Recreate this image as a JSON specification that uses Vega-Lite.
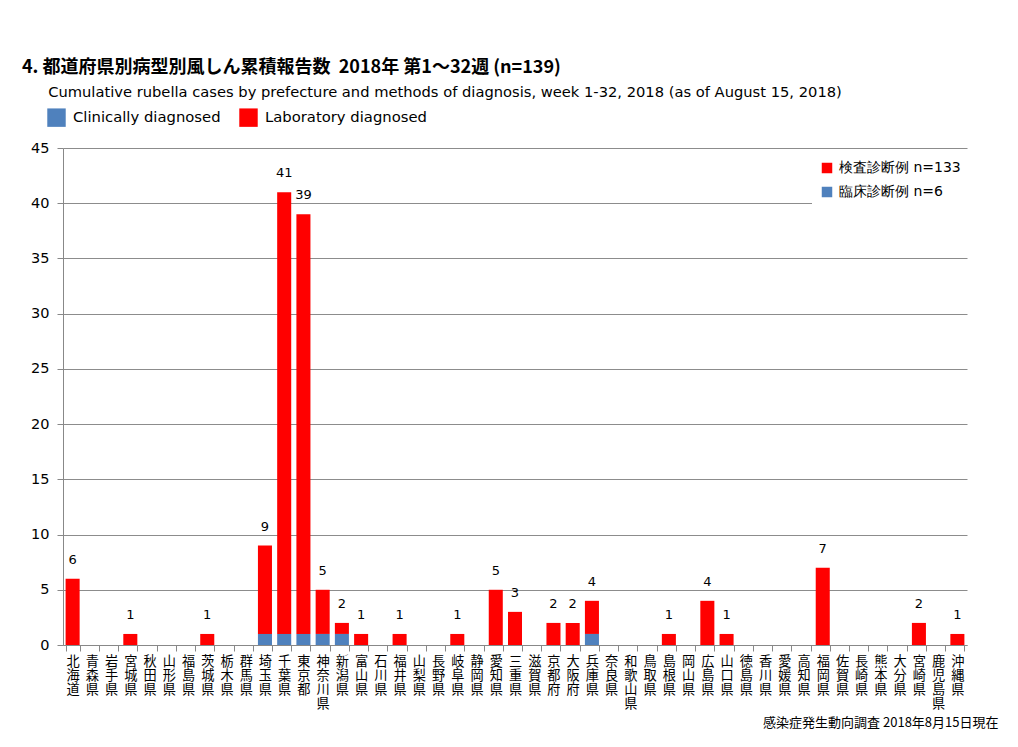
{
  "$schema": "https://vega.github.io/schema/vega-lite/v6.json",
  "width": 904,
  "height": 497,
  "autosize": "none",
  "padding": {"left": 63, "top": 148, "right": 51, "bottom": 102},
  "background": "white",
  "config": {
    "font": "DejaVu Sans",
    "view": {"stroke": null},
    "axis": {"labelColor": "#000", "titleColor": "#000"}
  },
  "title": {
    "text": "4. 都道府県別病型別風しん累積報告数\u00a0\u00a02018年 第1～32週 (n=139)",
    "subtitle": "\u2800\u2800\u00a0Cumulative rubella cases by prefecture and methods of diagnosis, week 1-32, 2018 (as of August 15, 2018)",
    "anchor": "start",
    "frame": "group",
    "dx": -41,
    "offset": 8,
    "font": "Noto Sans CJK JP",
    "fontSize": 18,
    "fontWeight": "bold",
    "color": "#000",
    "subtitleFont": "DejaVu Sans",
    "subtitleFontSize": 14.7,
    "subtitleColor": "#000",
    "subtitlePadding": 8
  },
  "datasets": {
    "cases": [
      {"pref": "北海道", "method": "検査診断例 n=133", "en": "Laboratory diagnosed", "count": 6},
      {"pref": "青森県", "method": "検査診断例 n=133", "en": "Laboratory diagnosed", "count": 0},
      {"pref": "岩手県", "method": "検査診断例 n=133", "en": "Laboratory diagnosed", "count": 0},
      {"pref": "宮城県", "method": "検査診断例 n=133", "en": "Laboratory diagnosed", "count": 1},
      {"pref": "秋田県", "method": "検査診断例 n=133", "en": "Laboratory diagnosed", "count": 0},
      {"pref": "山形県", "method": "検査診断例 n=133", "en": "Laboratory diagnosed", "count": 0},
      {"pref": "福島県", "method": "検査診断例 n=133", "en": "Laboratory diagnosed", "count": 0},
      {"pref": "茨城県", "method": "検査診断例 n=133", "en": "Laboratory diagnosed", "count": 1},
      {"pref": "栃木県", "method": "検査診断例 n=133", "en": "Laboratory diagnosed", "count": 0},
      {"pref": "群馬県", "method": "検査診断例 n=133", "en": "Laboratory diagnosed", "count": 0},
      {"pref": "埼玉県", "method": "検査診断例 n=133", "en": "Laboratory diagnosed", "count": 8},
      {"pref": "千葉県", "method": "検査診断例 n=133", "en": "Laboratory diagnosed", "count": 40},
      {"pref": "東京都", "method": "検査診断例 n=133", "en": "Laboratory diagnosed", "count": 38},
      {"pref": "神奈川県", "method": "検査診断例 n=133", "en": "Laboratory diagnosed", "count": 4},
      {"pref": "新潟県", "method": "検査診断例 n=133", "en": "Laboratory diagnosed", "count": 1},
      {"pref": "富山県", "method": "検査診断例 n=133", "en": "Laboratory diagnosed", "count": 1},
      {"pref": "石川県", "method": "検査診断例 n=133", "en": "Laboratory diagnosed", "count": 0},
      {"pref": "福井県", "method": "検査診断例 n=133", "en": "Laboratory diagnosed", "count": 1},
      {"pref": "山梨県", "method": "検査診断例 n=133", "en": "Laboratory diagnosed", "count": 0},
      {"pref": "長野県", "method": "検査診断例 n=133", "en": "Laboratory diagnosed", "count": 0},
      {"pref": "岐阜県", "method": "検査診断例 n=133", "en": "Laboratory diagnosed", "count": 1},
      {"pref": "静岡県", "method": "検査診断例 n=133", "en": "Laboratory diagnosed", "count": 0},
      {"pref": "愛知県", "method": "検査診断例 n=133", "en": "Laboratory diagnosed", "count": 5},
      {"pref": "三重県", "method": "検査診断例 n=133", "en": "Laboratory diagnosed", "count": 3},
      {"pref": "滋賀県", "method": "検査診断例 n=133", "en": "Laboratory diagnosed", "count": 0},
      {"pref": "京都府", "method": "検査診断例 n=133", "en": "Laboratory diagnosed", "count": 2},
      {"pref": "大阪府", "method": "検査診断例 n=133", "en": "Laboratory diagnosed", "count": 2},
      {"pref": "兵庫県", "method": "検査診断例 n=133", "en": "Laboratory diagnosed", "count": 3},
      {"pref": "奈良県", "method": "検査診断例 n=133", "en": "Laboratory diagnosed", "count": 0},
      {"pref": "和歌山県", "method": "検査診断例 n=133", "en": "Laboratory diagnosed", "count": 0},
      {"pref": "鳥取県", "method": "検査診断例 n=133", "en": "Laboratory diagnosed", "count": 0},
      {"pref": "島根県", "method": "検査診断例 n=133", "en": "Laboratory diagnosed", "count": 1},
      {"pref": "岡山県", "method": "検査診断例 n=133", "en": "Laboratory diagnosed", "count": 0},
      {"pref": "広島県", "method": "検査診断例 n=133", "en": "Laboratory diagnosed", "count": 4},
      {"pref": "山口県", "method": "検査診断例 n=133", "en": "Laboratory diagnosed", "count": 1},
      {"pref": "徳島県", "method": "検査診断例 n=133", "en": "Laboratory diagnosed", "count": 0},
      {"pref": "香川県", "method": "検査診断例 n=133", "en": "Laboratory diagnosed", "count": 0},
      {"pref": "愛媛県", "method": "検査診断例 n=133", "en": "Laboratory diagnosed", "count": 0},
      {"pref": "高知県", "method": "検査診断例 n=133", "en": "Laboratory diagnosed", "count": 0},
      {"pref": "福岡県", "method": "検査診断例 n=133", "en": "Laboratory diagnosed", "count": 7},
      {"pref": "佐賀県", "method": "検査診断例 n=133", "en": "Laboratory diagnosed", "count": 0},
      {"pref": "長崎県", "method": "検査診断例 n=133", "en": "Laboratory diagnosed", "count": 0},
      {"pref": "熊本県", "method": "検査診断例 n=133", "en": "Laboratory diagnosed", "count": 0},
      {"pref": "大分県", "method": "検査診断例 n=133", "en": "Laboratory diagnosed", "count": 0},
      {"pref": "宮崎県", "method": "検査診断例 n=133", "en": "Laboratory diagnosed", "count": 2},
      {"pref": "鹿児島県", "method": "検査診断例 n=133", "en": "Laboratory diagnosed", "count": 0},
      {"pref": "沖縄県", "method": "検査診断例 n=133", "en": "Laboratory diagnosed", "count": 1},
      {"pref": "埼玉県", "method": "臨床診断例 n=6", "en": "Clinically diagnosed", "count": 1},
      {"pref": "千葉県", "method": "臨床診断例 n=6", "en": "Clinically diagnosed", "count": 1},
      {"pref": "東京都", "method": "臨床診断例 n=6", "en": "Clinically diagnosed", "count": 1},
      {"pref": "神奈川県", "method": "臨床診断例 n=6", "en": "Clinically diagnosed", "count": 1},
      {"pref": "新潟県", "method": "臨床診断例 n=6", "en": "Clinically diagnosed", "count": 1},
      {"pref": "兵庫県", "method": "臨床診断例 n=6", "en": "Clinically diagnosed", "count": 1}
    ]
  },
  "data": {"name": "cases"},
  "encoding": {
    "x": {
      "field": "pref",
      "type": "nominal",
      "sort": null,
      "scale": {"paddingInner": 0.27, "paddingOuter": 0.135},
      "axis": {
        "title": "感染症発生動向調査 2018年8月15日現在",
        "titleFont": "Noto Sans CJK JP",
        "titleFontSize": 13,
        "titleFontWeight": "normal",
        "titleAlign": "right",
        "titleBaseline": "middle",
        "titleX": 935,
        "titleY": 77,
        "labelAngle": 0,
        "labelExpr": "isValid(datum.value) ? split(datum.value, '') : ''",
        "labelFont": "Noto Sans CJK JP",
        "labelFontSize": 13.2,
        "labelLineHeight": 14,
        "labelPadding": 4,
        "labelBaseline": "top",
        "tickBand": "extent",
        "tickSize": 6,
        "tickColor": "#888",
        "domainColor": "#888",
        "labelOverlap": false
      }
    }
  },
  "layer": [
    {
      "mark": {"type": "bar"},
      "encoding": {
        "y": {
          "field": "count",
          "type": "quantitative",
          "stack": "zero",
          "scale": {"domain": [0, 45]},
          "axis": {
            "title": null,
            "values": [0, 5, 10, 15, 20, 25, 30, 35, 40, 45],
            "labelFontSize": 14.5,
            "labelPadding": 8,
            "tickSize": 6,
            "tickColor": "#888",
            "domainColor": "#888",
            "gridColor": "#8c8c8c",
            "grid": true
          }
        },
        "fill": {
          "field": "method",
          "type": "nominal",
          "scale": {"domain": ["検査診断例 n=133", "臨床診断例 n=6"], "range": ["#ff0000", "#4f81bd"]},
          "legend": {
            "title": null,
            "orient": "none",
            "legendX": 749,
            "legendY": 5,
            "fillColor": "white",
            "padding": 8,
            "symbolType": "square",
            "symbolSize": 110,
            "labelFont": "DejaVu Sans",
            "labelFontSize": 14,
            "labelColor": "#000",
            "labelOffset": 5,
            "labelLimit": 0,
            "rowPadding": 10
          }
        },
        "order": {"field": "method", "sort": "descending"}
      }
    },
    {
      "mark": {"type": "square", "opacity": 0, "size": 1},
      "encoding": {
        "y": {"field": "count", "type": "quantitative", "aggregate": "min"},
        "color": {
          "field": "en",
          "type": "nominal",
          "scale": {"domain": ["Clinically diagnosed", "Laboratory diagnosed"], "range": ["#4f81bd", "#ff0000"]},
          "legend": {
            "title": null,
            "orient": "none",
            "direction": "horizontal",
            "legendX": -16,
            "legendY": -40,
            "symbolType": "square",
            "symbolSize": 340,
            "symbolOpacity": 1,
            "symbolStrokeWidth": 0,
            "labelFont": "DejaVu Sans",
            "labelFontSize": 14.8,
            "labelColor": "#000",
            "labelLimit": 0,
            "columnPadding": 18,
            "labelOffset": 7
          }
        }
      }
    },
    {
      "transform": [
        {"aggregate": [{"op": "sum", "field": "count", "as": "total"}], "groupby": ["pref"]},
        {"filter": "datum.total > 0"}
      ],
      "mark": {"type": "text", "baseline": "bottom", "dy": -12, "fontSize": 13, "color": "#000"},
      "encoding": {
        "y": {"field": "total", "type": "quantitative"},
        "text": {"field": "total", "type": "quantitative"}
      }
    }
  ]
}
